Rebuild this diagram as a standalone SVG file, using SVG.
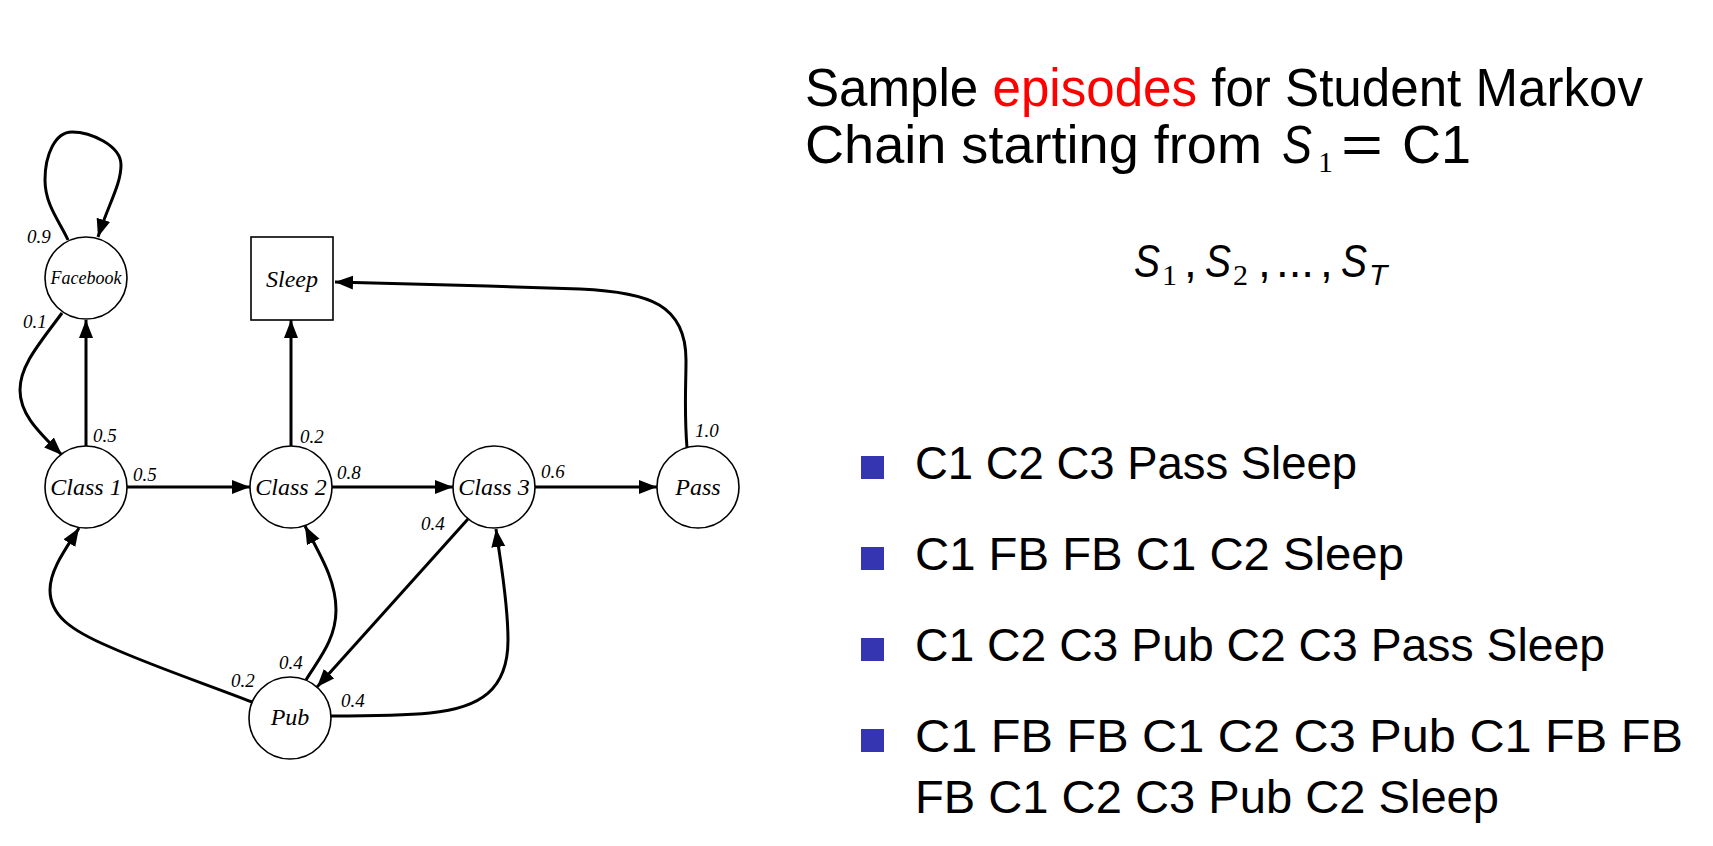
<svg xmlns="http://www.w3.org/2000/svg" width="1713" height="846" viewBox="0 0 1713 846">
<style>
.node{fill:#fff;stroke:#000;stroke-width:1.6}
.edge{fill:none;stroke:#000;stroke-width:3;marker-end:url(#arr)}
.nl{font-family:"Liberation Serif",serif;font-style:italic;font-size:24px;text-anchor:middle;fill:#000}
.el{font-family:"Liberation Serif",serif;font-style:italic;font-size:19px;fill:#000}
.t{font-family:"Liberation Sans",Arial,sans-serif;font-size:54px;fill:#000}
.b{font-family:"Liberation Sans",Arial,sans-serif;font-size:46px;fill:#000}
.mi{font-family:"Liberation Sans",Arial,sans-serif;font-style:italic;fill:#000}
.mt{font-size:54px}
.ms{font-size:47px}
.sub{font-family:"Liberation Serif",serif;fill:#000;font-size:30px}
.bul{fill:#3535B2}
</style>
<defs>
<marker id="arr" markerUnits="userSpaceOnUse" markerWidth="20" markerHeight="16" refX="18" refY="7" orient="auto">
<path d="M0,0 L18,7 L0,14 z" fill="#000"/>
</marker>
</defs>
<g id="connectors">
<path class="edge" d="M127,487 L250,487"/>
<path class="edge" d="M332,487 L453,487"/>
<path class="edge" d="M535,487 L657,487"/>
<path class="edge" d="M86,446 L86,320"/>
<path class="edge" d="M291,446 L291,320"/>
<path class="edge" d="M68,240 C60,222 45,205 45,180 C45,155 55,132 72,132 C90,132 121,145 121,165 C121,185 108,205 98,237"/>
<path class="edge" d="M62,313 C40,343 20,365 20,390 C20,412 34,428 62,455"/>
<path class="edge" d="M687,448 C684,410 686,385 686,360 C686,305 650,292 580,289 C500,286 400,284 335,282"/>
<path class="edge" d="M468,519 L317,687"/>
<path class="edge" d="M252,702 C200,682 150,665 110,647 C70,630 50,615 50,590 C50,570 65,550 79,528"/>
<path class="edge" d="M306,680 C318,660 336,640 336,610 C336,580 320,555 305,526"/>
<path class="edge" d="M331,716 C370,716 400,716 430,713 C480,708 508,690 508,640 C508,600 500,560 496,529"/>
<text class="el" x="133" y="481">0.5</text>
<text class="el" x="337" y="479">0.8</text>
<text class="el" x="541" y="478">0.6</text>
<text class="el" x="93" y="442">0.5</text>
<text class="el" x="300" y="443">0.2</text>
<text class="el" x="27" y="243">0.9</text>
<text class="el" x="23" y="328">0.1</text>
<text class="el" x="695" y="437">1.0</text>
<text class="el" x="421" y="530">0.4</text>
<text class="el" x="231" y="687">0.2</text>
<text class="el" x="279" y="669">0.4</text>
<text class="el" x="341" y="707">0.4</text>
</g>
<g id="facebook"><circle class="node" cx="86" cy="278" r="41"/><text class="nl" x="86" y="284" style="font-size:18px">Facebook</text></g>
<g id="sleep"><rect class="node" x="251" y="237" width="82" height="83"/><text class="nl" x="292" y="287">Sleep</text></g>
<g id="class1"><circle class="node" cx="86" cy="487" r="41"/><text class="nl" x="86" y="495">Class 1</text></g>
<g id="class2"><circle class="node" cx="291" cy="487" r="41"/><text class="nl" x="291" y="495">Class 2</text></g>
<g id="class3"><circle class="node" cx="494" cy="487" r="41"/><text class="nl" x="494" y="495">Class 3</text></g>
<g id="pass"><circle class="node" cx="698" cy="487" r="41"/><text class="nl" x="698" y="495">Pass</text></g>
<g id="pub"><circle class="node" cx="290" cy="718" r="41"/><text class="nl" x="290" y="725">Pub</text></g>
<g id="title">
<text class="t" x="805" y="106" textLength="838" lengthAdjust="spacingAndGlyphs">Sample <tspan fill="#ff0000">episodes</tspan> for Student Markov</text>
<text class="t" x="805" y="163" textLength="457" lengthAdjust="spacingAndGlyphs">Chain starting from</text>
<text class="mi mt" x="1282" y="163" textLength="30" lengthAdjust="spacingAndGlyphs">S</text>
<text class="sub" x="1318" y="172">1</text>
<text class="t" x="1341" y="163" textLength="42" lengthAdjust="spacingAndGlyphs">=</text>
<text class="t" x="1402" y="163">C1</text>
</g>
<g id="sequence">
<text class="mi ms" x="1134" y="277" textLength="26" lengthAdjust="spacingAndGlyphs">S</text>
<text class="sub" x="1162" y="285">1</text>
<text class="t" x="1184" y="277" style="font-size:46px">,</text>
<text class="mi ms" x="1205" y="277" textLength="26" lengthAdjust="spacingAndGlyphs">S</text>
<text class="sub" x="1233" y="285">2</text>
<text class="t" x="1258" y="277" style="font-size:46px">,</text>
<text class="t" x="1276" y="277" style="font-size:46px" textLength="38" lengthAdjust="spacingAndGlyphs">...</text>
<text class="t" x="1320" y="277" style="font-size:46px">,</text>
<text class="mi ms" x="1341" y="277" textLength="26" lengthAdjust="spacingAndGlyphs">S</text>
<text class="mi" x="1369" y="285" style="font-size:30px">T</text>
</g>
<g id="episodes">
<rect class="bul" x="861" y="456" width="23" height="23"/>
<text class="b" x="915" y="479" textLength="442" lengthAdjust="spacingAndGlyphs">C1 C2 C3 Pass Sleep</text>
<rect class="bul" x="861" y="547" width="23" height="23"/>
<text class="b" x="915" y="570" textLength="489" lengthAdjust="spacingAndGlyphs">C1 FB FB C1 C2 Sleep</text>
<rect class="bul" x="861" y="638" width="23" height="23"/>
<text class="b" x="915" y="661" textLength="690" lengthAdjust="spacingAndGlyphs">C1 C2 C3 Pub C2 C3 Pass Sleep</text>
<rect class="bul" x="861" y="729" width="23" height="23"/>
<text class="b" x="915" y="752" textLength="768" lengthAdjust="spacingAndGlyphs">C1 FB FB C1 C2 C3 Pub C1 FB FB</text>
<text class="b" x="915" y="813" textLength="584" lengthAdjust="spacingAndGlyphs">FB C1 C2 C3 Pub C2 Sleep</text>
</g>
</svg>
